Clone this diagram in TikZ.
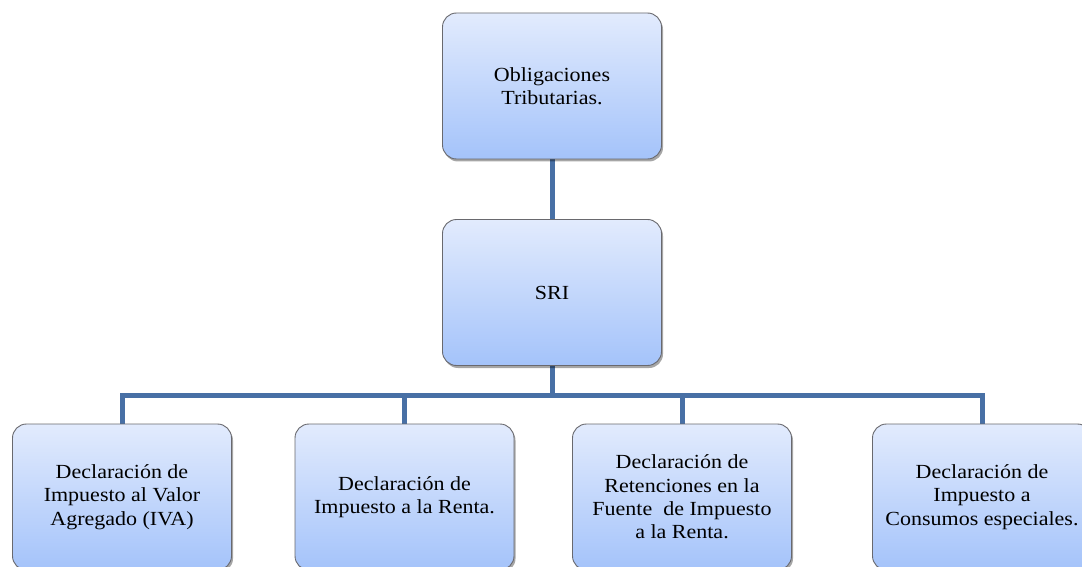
\documentclass[tikz,border=0pt]{standalone}
\usepackage{fontspec}
\setmainfont{Liberation Serif}[FakeStretch=1.1]
\usetikzlibrary{shadows}
\definecolor{boxtop}{RGB}{226,235,253}
\definecolor{boxbot}{RGB}{164,195,250}
\definecolor{boxline}{RGB}{105,105,110}
\definecolor{conncol}{RGB}{72,112,165}
\tikzset{
  orgbox/.style={draw=boxline, line width=0.9pt, rounded corners=14pt,
    top color=boxtop, bottom color=boxbot, minimum width=219pt,
    minimum height=146pt, align=center, inner sep=2pt,
    font=\fontsize{20pt}{23.3pt}\selectfont,
    drop shadow={shadow xshift=1.5pt, shadow yshift=-2.5pt, opacity=0.35, fill=black}},
  conn/.style={draw=conncol, line width=5pt, line join=miter}
}
\begin{document}
\begin{tikzpicture}[x=1pt,y=-1pt]
\useasboundingbox[fill=white] (0,0) rectangle (1082,567);
\coordinate (bus) at (552,395);
\draw[conn] (552,86) -- (552,292);
\draw[conn] (122,497) |- (bus) -| (982,497);
\draw[conn] (404.5,497) -- (404.5,395);
\draw[conn] (682,497) -- (682,395);
\draw[conn] (552,292) -- (bus);
\node[orgbox] (top) at (552,86) {Obligaciones\\Tributarias.};
\node[orgbox] (sri) at (552,292.5) {SRI};
\node[orgbox] (b1) at (122,497) {Declaración de\\Impuesto al Valor\\Agregado (IVA)};
\node[orgbox] (b2) at (404.5,497) {Declaración de\\Impuesto a la Renta.};
\node[orgbox] (b3) at (682,497) {Declaración de\\Retenciones en la\\Fuente~ de Impuesto\\a la Renta.};
\node[orgbox] (b4) at (982,497) {Declaración de\\Impuesto a\\Consumos especiales.};
\end{tikzpicture}
\end{document}
